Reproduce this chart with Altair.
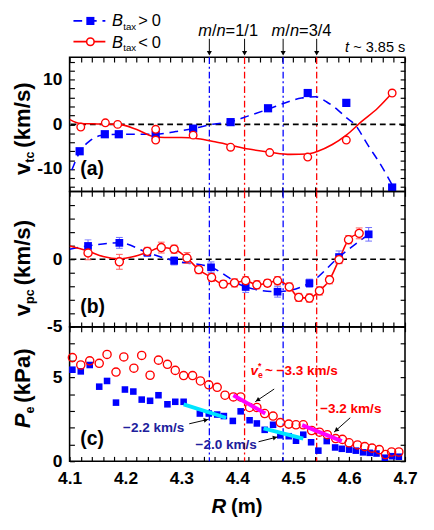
import math
import altair as alt
import pandas as pd

FONT = "Liberation Sans"
W = 347
H_HEAD, H_A, H_B, H_C = 49, 139, 140, 139
XDOM = [4.1, 4.7]
DOM_A, DOM_B, DOM_C = [-15, 15], [-5, 5], [0, 8]

BLUE = "#0000ff"
RED = "#ff0000"
NAVY = "#20209c"
CYAN = "#00e5ff"
MAGENTA = "#ff00ff"
BLUE_ERR = "#6b6bff"
RED_ERR = "#ff5a5a"

# ---------------- data ----------------
vline_blue = [4.35, 4.482]
vline_red = [4.413, 4.542]
mn_arrow_R = [4.35, 4.413, 4.482, 4.542]

# axis ticks (major labelled, minor unlabelled)
x_major = [4.1, 4.2, 4.3, 4.4, 4.5, 4.6, 4.7]
x_minor = [4.12, 4.14, 4.16, 4.18, 4.22, 4.24, 4.26, 4.28, 4.32, 4.34, 4.36, 4.38,
           4.42, 4.44, 4.46, 4.48, 4.52, 4.54, 4.56, 4.58, 4.62, 4.64, 4.66, 4.68]
a_major = [-10, 0, 10]
a_minor = [-14, -12, -8, -6, -4, -2, 2, 4, 6, 8, 12, 14]
b_major = [-5, 0]
b_minor = [-4, -3, -2, -1, 1, 2, 3, 4]
c_major = [0, 5]
c_minor = [1, 2, 3, 4, 6, 7]

# panel (a): v_tc
a_blue_R = [4.118, 4.163, 4.188, 4.254, 4.321, 4.388, 4.455, 4.526, 4.595, 4.677]
a_blue_v = [-6.0, -2.2, -2.2, -2.4, -0.95, 0.5, 3.6, 7.0, 4.8, -14.1]
a_red_R = [4.12, 4.164, 4.186, 4.254, 4.254, 4.321, 4.388, 4.458, 4.526, 4.595, 4.677]
a_red_v = [-0.6, 0.35, 0.0, -1.1, -3.5, -2.4, -5.1, -6.3, -7.3, -3.5, 7.0]
a_bfit_R = [4.104, 4.118, 4.135, 4.156, 4.19, 4.254, 4.29, 4.323, 4.35, 4.388, 4.42,
            4.455, 4.49, 4.515, 4.54, 4.56, 4.58, 4.595, 4.61, 4.634, 4.657, 4.68]
a_bfit_v = [-10.2, -6.2, -3.8, -2.5, -2.2, -2.2, -1.6, -0.9, -0.1, 0.6, 1.9,
            3.4, 5.0, 5.9, 6.15, 5.0, 3.2, 1.5, 0.0, -4.7, -9.1, -14.2]
a_rfit_R = [4.1, 4.118, 4.15, 4.188, 4.219, 4.25, 4.27, 4.3, 4.33, 4.36, 4.39, 4.42,
            4.458, 4.495, 4.526, 4.544, 4.57, 4.595, 4.622, 4.651, 4.677]
a_rfit_v = [1.1, 0.2, 0.1, 0.0, -1.1, -2.7, -2.95, -2.95, -3.2, -3.9, -4.7, -5.5,
            -6.2, -6.7, -6.6, -6.0, -4.5, -2.4, 0.6, 3.6, 7.0]

# panel (b): v_pc
b_blue_R = [4.133, 4.189, 4.239, 4.287, 4.353, 4.415, 4.472, 4.529, 4.582, 4.635]
b_blue_v = [0.98, 1.21, 0.5, -0.12, -0.6, -2.05, -2.4, -1.77, 0.16, 1.84]
b_blue_err = [0.45, 0.4, 0.3, 0.3, 0.4, 0.4, 0.4, 0.3, 0.45, 0.5]
b_red_R = [4.133, 4.189, 4.239, 4.264, 4.287, 4.31, 4.331, 4.354, 4.375, 4.395, 4.415,
           4.435, 4.454, 4.472, 4.493, 4.51, 4.529, 4.547, 4.565, 4.582, 4.599, 4.618]
b_red_v = [0.46, -0.19, 0.58, 0.86, 0.74, 0.09, -0.77, -1.35, -1.84, -1.75, -1.59,
           -1.89, -1.77, -1.59, -2.05, -2.82, -2.87, -2.34, -1.52, -0.03, 1.44, 1.91]
b_red_err = [0.5, 0.55, 0.3, 0.4, 0.3, 0.4, 0.3, 0.3, 0.25, 0.3, 0.3,
             0.3, 0.25, 0.3, 0.3, 0.3, 0.3, 0.3, 0.3, 0.3, 0.3, 0.4]
b_bfit_R = [4.1, 4.133, 4.189, 4.239, 4.287, 4.353, 4.415, 4.472, 4.529, 4.582, 4.635]
b_bfit_v = [0.74, 0.98, 1.21, 0.5, -0.12, -0.6, -2.05, -2.4, -1.77, 0.16, 1.84]
b_rfit_R = [4.1, 4.133, 4.16, 4.188, 4.215, 4.239, 4.264, 4.287, 4.31, 4.331, 4.354, 4.375,
            4.395, 4.415, 4.435, 4.454, 4.472, 4.493, 4.51, 4.529, 4.547, 4.565, 4.582,
            4.599, 4.618]
b_rfit_v = [0.98, 0.6, 0.2, 0.03, 0.2, 0.5, 0.86, 0.74, 0.09, -0.77, -1.35, -1.84,
            -1.75, -1.59, -1.89, -1.77, -1.59, -2.05, -2.82, -2.87, -2.34, -1.52, -0.03,
            1.44, 1.91]

# panel (c): P_e
c_red_R = [4.105, 4.12, 4.136, 4.153, 4.167, 4.183, 4.197, 4.215, 4.229, 4.244, 4.259,
           4.275, 4.289, 4.304, 4.32, 4.334, 4.349, 4.364, 4.378, 4.393, 4.406, 4.422,
           4.435, 4.449, 4.464, 4.477, 4.492, 4.505, 4.518, 4.533, 4.547, 4.561, 4.576,
           4.588, 4.6, 4.615, 4.628, 4.641, 4.654, 4.665, 4.676, 4.689]
c_red_P = [6.17, 5.73, 5.98, 5.83, 6.36, 5.31, 6.21, 5.54, 6.3, 5.12, 6.02,
           5.77, 5.41, 5.1, 5.1, 4.78, 4.55, 4.4, 3.93, 3.83, 3.83, 3.2,
           3.2, 2.84, 2.69, 2.3, 2.21, 2.17, 2.17, 1.83, 1.73, 1.58, 1.35,
           1.3, 1.1, 0.97, 0.87, 0.78, 0.69, 0.4, 0.55, 0.55]
c_blue_R = [4.105, 4.12, 4.136, 4.153, 4.167, 4.183, 4.199, 4.214, 4.229, 4.244, 4.259,
            4.275, 4.289, 4.304, 4.333, 4.349, 4.364, 4.376, 4.392, 4.406, 4.422, 4.435,
            4.449, 4.464, 4.477, 4.492, 4.505, 4.518, 4.532, 4.545, 4.56, 4.575, 4.587,
            4.6, 4.612, 4.625, 4.637, 4.649, 4.664, 4.677, 4.689]
c_blue_P = [5.45, 5.35, 5.73, 4.44, 4.78, 3.49, 4.27, 4.15, 3.67, 3.6, 3.93,
            3.39, 3.54, 3.54, 2.84, 2.84, 2.78, 2.69, 2.4, 2.97, 2.44, 2.25,
            1.87, 2.17, 1.54, 1.49, 1.22, 1.58, 1.13, 0.63, 1.2, 0.82, 0.74,
            0.69, 0.63, 0.53, 0.5, 0.46, 0.21, 0.3, 0.27]
# local gradient fits
cyan_R1 = [4.304, 4.447]
cyan_P1 = [3.39, 1.96]
cyan_R2 = [4.38, 4.518]
cyan_P2 = [2.59, 1.35]
mag_R1 = [4.393, 4.516]
mag_P1 = [3.93, 2.15]
mag_R2 = [4.45, 4.587]
mag_P2 = [2.84, 1.2]
# annotation arrows (tail -> tip)
arr_R1 = [4.314, 4.438, 4.466, 4.602]
arr_P1 = [2.23, 1.16, 4.3, 2.59]
arr_R2 = [4.349, 4.4725, 4.432, 4.573]
arr_P2 = [2.5, 1.45, 3.54, 1.73]
# annotation labels
lab_blue_txt = ["\u22122.2 km/s", "\u22122.0 km/s"]
lab_blue_R = [4.2504, 4.380]
lab_blue_P = [1.73, 0.75]
lab_red_txt = ["\u22123.2 km/s"]
lab_red_R = [4.603]
lab_red_P = [2.9]
ve_R, ve_P = 4.4234, 5.11

one = pd.DataFrame({"k": [0]})
TICK = 5


# ---------------- helpers ----------------
def Xf(field, axis=None):
    return alt.X(f"{field}:Q", scale=alt.Scale(domain=XDOM, nice=False, zero=False), axis=axis)


def Yf(field, dom, axis=None):
    return alt.Y(f"{field}:Q", scale=alt.Scale(domain=dom, nice=False, zero=False), axis=axis)


def make_axis(orient, major, minor, labels, label_expr, pad):
    kw = dict(orient=orient, values=sorted(major + minor), tickSize=TICK, offset=-TICK,
              domain=False, grid=False, ticks=True, tickColor="black", tickWidth=1.2,
              labels=labels, title=None)
    if labels:
        majors = ",".join(str(m) for m in major)
        kw.update(labelFont=FONT, labelFontSize=18, labelFontWeight="bold",
                  labelColor="black", labelPadding=pad, labelFlush=False, labelOverlap=False,
                  labelExpr=f"indexof([{majors}], datum.value) >= 0 ? ({label_expr}) : ''")
    return alt.Axis(**kw)


X_LAB = "format(datum.value, '.1f')"
Y_LAB = "datum.value < 0 ? '-' + format(-datum.value, 'd') : format(datum.value, 'd')"


def xaxis(orient, labels=False):
    return make_axis(orient, x_major, x_minor, labels, X_LAB, 9)


def yaxis(orient, major, minor, labels=False):
    return make_axis(orient, major, minor, labels, Y_LAB, 8)


def vtext(text, x, y, size, color="black", weight="normal", style="normal",
          align="left", angle=0):
    return alt.Chart(one).mark_text(
        text=text, font=FONT, fontSize=size, fontWeight=weight, fontStyle=style,
        color=color, align=align, baseline="alphabetic", angle=angle
    ).encode(x=alt.value(x), y=alt.value(y))


def vlines(vals, color):
    return alt.Chart(pd.DataFrame({"R": vals})).mark_rule(
        color=color, strokeWidth=1.3, strokeDash=[7, 3, 2, 3]
    ).encode(x=Xf("R"))


def zero_line(dom):
    return alt.Chart(pd.DataFrame({"z": [0]})).mark_rule(
        color="black", strokeWidth=1.6, strokeDash=[6, 4]
    ).encode(y=Yf("z", dom))


def fit_line(R, v, dom, color, dash):
    kw = dict(color=color, strokeWidth=1.6, interpolate="monotone", clip=True)
    if dash:
        kw["strokeDash"] = dash
    return alt.Chart(pd.DataFrame({"R": R, "v": v})).mark_line(**kw).encode(
        x=Xf("R"), y=Yf("v", dom))


def squares(R, v, dom, size, xa=None, ya=None):
    return alt.Chart(pd.DataFrame({"R": R, "v": v})).mark_point(
        shape="square", filled=True, color=BLUE, size=size, opacity=1
    ).encode(x=Xf("R", xa), y=Yf("v", dom, ya))


def circles(R, v, dom, size, xa=None, ya=None, fill="white"):
    return alt.Chart(pd.DataFrame({"R": R, "v": v})).mark_point(
        shape="circle", filled=True, fill=fill, stroke=RED, strokeWidth=1.4,
        size=size, opacity=1
    ).encode(x=Xf("R", xa), y=Yf("v", dom, ya))


def errbars(R, v, e, dom, color):
    df = pd.DataFrame({"R": R, "v": v, "e": e})
    base = alt.Chart(df).transform_calculate(lo="datum.v - datum.e", hi="datum.v + datum.e")
    stem = base.mark_rule(color=color, strokeWidth=1).encode(
        x=Xf("R"), y=Yf("lo", dom), y2="hi:Q")
    cap_lo = base.mark_tick(orient="horizontal", color=color, size=7, thickness=1,
                            opacity=1).encode(x=Xf("R"), y=Yf("lo", dom))
    cap_hi = base.mark_tick(orient="horizontal", color=color, size=7, thickness=1,
                            opacity=1).encode(x=Xf("R"), y=Yf("hi", dom))
    return [stem, cap_lo, cap_hi]


def ytitle(main, sub, unit, y0, main_style="normal"):
    wmain = {"v": 0.556, "P": 0.667}[main] * 23
    wsub = {"tc": 0.889, "pc": 1.167, "e": 0.556}[sub] * 13
    return [
        vtext(main, -41, y0, 23, weight="bold", style=main_style, angle=270),
        vtext(sub, -37, y0 - wmain, 13, weight="bold", angle=270),
        vtext(unit, -41, y0 - wmain - wsub - 4, 23, weight="bold", angle=270),
    ]


def panel(layers, h):
    return alt.layer(*layers).resolve_axis(x="independent", y="independent").properties(
        width=W, height=h)


# ---------------- header ----------------
df_arrow = pd.DataFrame({"R": mn_arrow_R})
header_layers = [
    alt.Chart(df_arrow).mark_rule(color="black", strokeWidth=1).encode(
        x=Xf("R"), y=alt.value(30), y2=alt.value(44)),
    alt.Chart(df_arrow).mark_point(shape="triangle-down", filled=True, color="black",
                                   size=28, opacity=1).encode(x=Xf("R"), y=alt.value(45)),
    # legend
    alt.Chart(one).mark_rule(color=BLUE, strokeWidth=1.8, strokeDash=[9, 6]).encode(
        x=alt.value(4), x2=alt.value(37), y=alt.value(11.5)),
    alt.Chart(one).mark_point(shape="square", filled=True, color=BLUE, size=70,
                              opacity=1).encode(x=alt.value(21.5), y=alt.value(11.5)),
    alt.Chart(one).mark_rule(color=RED, strokeWidth=1.8).encode(
        x=alt.value(4), x2=alt.value(37), y=alt.value(33)),
    alt.Chart(one).mark_point(shape="circle", filled=True, fill="white", stroke=RED,
                              strokeWidth=1.6, size=60, opacity=1).encode(
        x=alt.value(21.5), y=alt.value(33)),
    vtext("B", 44, 17, 17, style="italic"),
    vtext("tax", 55.5, 20.5, 10),
    vtext(">", 71, 17, 17),
    vtext("0", 85, 17, 17),
    vtext("B", 44, 39, 17, style="italic"),
    vtext("tax", 55.5, 42.5, 10),
    vtext("<", 71, 39, 17),
    vtext("0", 85, 39, 17),
    # m/n labels
    vtext("m", 133, 27, 17, style="italic"),
    vtext("/", 147.2, 27, 17),
    vtext("n", 151.9, 27, 17, style="italic"),
    vtext("=1/1", 161.4, 27, 17),
    vtext("m", 209, 27, 17, style="italic"),
    vtext("/", 223.2, 27, 17),
    vtext("n", 227.9, 27, 17, style="italic"),
    vtext("=3/4", 237.4, 27, 17),
    vtext("t", 285, 44, 15, style="italic"),
    vtext("~ 3.85 s", 293.5, 44, 15),
]
header = alt.layer(*header_layers).properties(
    width=W, height=H_HEAD, view=alt.ViewBackground(stroke="transparent"))

# ---------------- panel (a) ----------------
pa = panel([
    vlines(vline_blue, BLUE), vlines(vline_red, RED), zero_line(DOM_A),
    fit_line(a_bfit_R, a_bfit_v, DOM_A, BLUE, [9, 6]),
    fit_line(a_rfit_R, a_rfit_v, DOM_A, RED, None),
    squares(a_blue_R, a_blue_v, DOM_A, 72,
            xaxis("bottom"), yaxis("left", a_major, a_minor, True)),
    circles(a_red_R, a_red_v, DOM_A, 62,
            xaxis("top"), yaxis("right", a_major, a_minor)),
    vtext("(a)", 11, 122, 20, weight="bold"),
] + ytitle("v", "tc", "(km/s)", 122), H_A)

# ---------------- panel (b) ----------------
pb = panel([
    vlines(vline_blue, BLUE), vlines(vline_red, RED), zero_line(DOM_B),
    fit_line(b_bfit_R, b_bfit_v, DOM_B, BLUE, [9, 6]),
    fit_line(b_rfit_R, b_rfit_v, DOM_B, RED, None),
] + errbars(b_blue_R, b_blue_v, b_blue_err, DOM_B, BLUE_ERR)
  + errbars(b_red_R, b_red_v, b_red_err, DOM_B, RED_ERR) + [
    squares(b_blue_R, b_blue_v, DOM_B, 64,
            xaxis("bottom"), yaxis("left", b_major, b_minor, True)),
    circles(b_red_R, b_red_v, DOM_B, 70,
            xaxis("top"), yaxis("right", b_major, b_minor)),
    vtext("(b)", 11, 126, 20, weight="bold"),
] + ytitle("v", "pc", "(km/s)", 129), H_B)

# ---------------- panel (c) ----------------
sx = W / (XDOM[1] - XDOM[0])
sy = H_C / (DOM_C[1] - DOM_C[0])
head_R, head_P, head_A = [], [], []
for r1, p1, r2, p2 in zip(arr_R1, arr_P1, arr_R2, arr_P2):
    dxp = (r2 - r1) * sx
    dyp = -(p2 - p1) * sy
    L = math.hypot(dxp, dyp)
    head_A.append(math.degrees(math.atan2(dxp, -dyp)) % 360)
    head_R.append(r2 - dxp / L * 3 / sx)
    head_P.append(p2 + dyp / L * 3 / sy)

df_arr = pd.DataFrame({"R": arr_R1, "P": arr_P1, "R2": arr_R2, "P2": arr_P2})
df_head = pd.DataFrame({"R": head_R, "P": head_P, "ang": head_A})
df_cyan = pd.DataFrame({"R": cyan_R1, "P": cyan_P1, "R2": cyan_R2, "P2": cyan_P2})
df_mag = pd.DataFrame({"R": mag_R1, "P": mag_P1, "R2": mag_R2, "P2": mag_P2})


def seg(df, color, width):
    return alt.Chart(df).mark_rule(color=color, strokeWidth=width).encode(
        x=Xf("R"), y=Yf("P", DOM_C), x2="R2:Q", y2="P2:Q")


def dtext(texts, Rs, Ps, size, color, style="normal", align="center", dx=0, dy=0):
    df = pd.DataFrame({"R": Rs, "P": Ps, "t": texts})
    return alt.Chart(df).mark_text(
        font=FONT, fontSize=size, fontWeight="bold", fontStyle=style, color=color,
        align=align, baseline="alphabetic", dx=dx, dy=dy
    ).encode(x=Xf("R"), y=Yf("P", DOM_C), text="t:N")


pc = panel([
    vlines(vline_blue, BLUE), vlines(vline_red, RED),
    squares(c_blue_R, c_blue_P, DOM_C, 46,
            xaxis("bottom", True), yaxis("left", c_major, c_minor, True)),
    circles(c_red_R, c_red_P, DOM_C, 72,
            xaxis("top"), yaxis("right", c_major, c_minor), fill="transparent"),
    seg(df_cyan, CYAN, 4), seg(df_mag, MAGENTA, 4),
    seg(df_arr, "black", 1),
    alt.Chart(df_head).mark_point(shape="triangle-up", filled=True, color="black",
                                  size=26, opacity=1).encode(
        x=Xf("R"), y=Yf("P", DOM_C), angle=alt.Angle("ang:Q", scale=None)),
    dtext(lab_blue_txt, lab_blue_R, lab_blue_P, 14, NAVY),
    dtext(lab_red_txt, lab_red_R, lab_red_P, 14, RED),
    dtext(["v"], [ve_R], [ve_P], 14, RED, style="italic", align="left"),
    dtext(["*"], [ve_R], [ve_P], 9, RED, align="left", dx=8, dy=-7),
    dtext(["e"], [ve_R], [ve_P], 9, RED, align="left", dx=8, dy=3),
    dtext(["~ \u22123.3 km/s"], [ve_R], [ve_P], 14, RED, align="left", dx=15),
    vtext("(c)", 11, 122, 20, weight="bold"),
    vtext("R", 146.7, 193, 21, weight="bold", style="italic"),
    vtext("(m)", 167, 193, 21, weight="bold"),
] + ytitle("P", "e", "(kPa)", 105, main_style="italic"), H_C)

chart = alt.vconcat(header, pa, pb, pc, spacing=0, bounds="flush").properties(
    padding={"left": 12, "right": 16, "top": 0, "bottom": 4},
    background="white",
).configure_view(stroke="black", strokeWidth=1.6)

chart.save("out.html", embed_options={"renderer": "svg", "actions": False})
